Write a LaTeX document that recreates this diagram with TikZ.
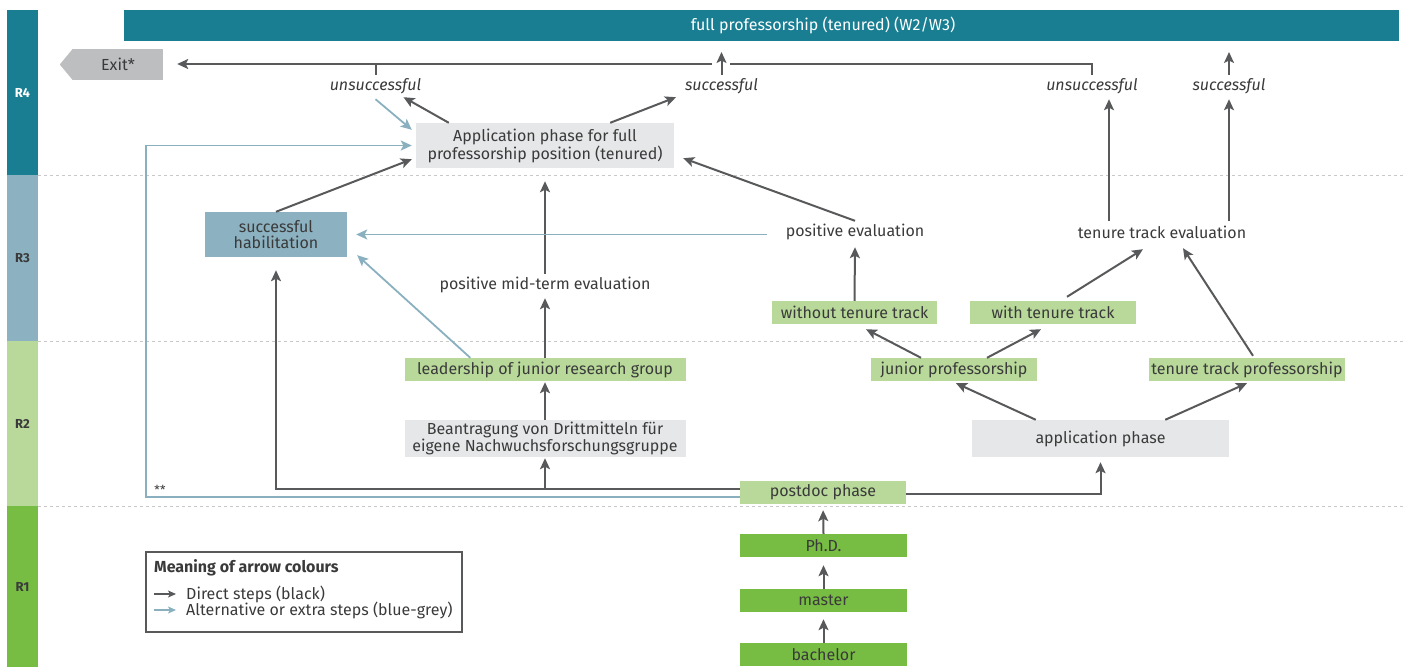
\documentclass[tikz,border=0pt]{standalone}
\usepackage{fontspec}
\setmainfont{Fira Sans}
\usetikzlibrary{arrows.meta}
\definecolor{teal1}{HTML}{1A7E93}
\definecolor{bgrey}{HTML}{8CB1C0}
\definecolor{lgreen}{HTML}{B8D99A}
\definecolor{dgreen}{HTML}{77BC43}
\definecolor{lgrey}{HTML}{E6E7E8}
\definecolor{exitc}{HTML}{BCBEC0}
\definecolor{arrblk}{HTML}{58595B}
\definecolor{arrblue}{HTML}{8AB0C0}
\definecolor{txt}{HTML}{3A3A3A}
\definecolor{dotc}{HTML}{C8C8C8}
\begin{document}
\begin{tikzpicture}[x=1pt,y=-1pt,
  every node/.style={inner sep=0pt, text=txt, font=\fontsize{16}{16.5}\selectfont},
  bx/.style={align=center, minimum height=23pt},
  g1/.style={bx, fill=lgreen, minimum width=166pt},
  g2/.style={bx, fill=dgreen, minimum width=167pt},
  gr/.style={bx, fill=lgrey},
  lbl/.style={minimum height=22pt},
  itl/.style={lbl, font=\fontsize{16}{16.5}\selectfont\itshape},
  blk/.style={draw=arrblk, line width=2pt},
  blu/.style={draw=arrblue, line width=1.8pt},
  arrowhd/.style={-{Stealth[length=11pt,width=10pt,inset=2.5pt]}},
  smallhd/.style={-{Stealth[length=8pt,width=7pt,inset=2pt]}},
  band/.style={minimum width=31pt, font=\fontsize{13}{13}\selectfont\bfseries},
  dotl/.style={draw=dotc, line width=0.9pt, dash pattern=on 3pt off 3pt},
]
\useasboundingbox (0,0) rectangle (1403,667);

% side bands
\node[band, fill=teal1, minimum height=165pt, text=white] (r4) at (22.5,92.5) {R4};
\node[band, fill=bgrey, minimum height=166pt] (r3) at (22.5,258) {R3};
\node[band, fill=lgreen, minimum height=165pt] (r2) at (22.5,423.5) {R2};
\node[band, fill=dgreen, minimum height=161pt] (r1) at (22.5,586.5) {R1};

% dotted separators
\draw[dotl] (38,175) -- (1403,175);
\draw[dotl] (38,341) -- (1403,341);
\draw[dotl] (38,506) -- (1403,506);

% top bar
\node[fill=teal1, minimum width=1275pt, minimum height=31pt] (fullbar) at (761.5,25.5) {};
\node[text=white] (fullp) at (823,25) {full professorship (tenured) (W2/W3)};

% exit
\node[fill=exitc, minimum width=90pt, minimum height=31pt] (exit) at (118,64.5) {Exit*};
\fill[exitc] (exit.north west) -- ([xshift=-13pt]exit.west) -- (exit.south west) -- cycle;

% nodes
\node[gr, minimum width=258pt, minimum height=45pt] (app) at (545,145.5) {Application phase for full\\professorship position (tenured)};
\node[bx, fill=bgrey, minimum width=142pt, minimum height=45pt] (hab) at (276,234.5) {successful\\habilitation};
\node[gr, minimum width=281pt, minimum height=37pt] (bean) at (545,438.5) {Beantragung von Drittmitteln für\\eigene Nachwuchsforschungsgruppe};
\node[g1, minimum width=281pt] (lead) at (545,369.5) {leadership of junior research group};
\node[lbl] (mid) at (545,285) {positive mid-term evaluation};
\node[lbl] (pe) at (855,232) {positive evaluation};
\node[lbl] (tte) at (1162,232) {tenure track evaluation};
\node[g1, minimum width=165pt] (wo) at (854.5,312.5) {without tenure track};
\node[g1] (wt) at (1053,312.5) {with tenure track};
\node[g1] (jp) at (954,369.5) {junior professorship};
\node[g1, minimum width=196pt] (ttp) at (1247,369.5) {tenure track professorship};
\node[gr, minimum width=257pt, minimum height=37pt] (ap) at (1100.5,438.5) {application phase};
\node[g1] (pd) at (823,492.5) {postdoc phase};
\node[g2] (phd) at (823.5,545.5) {Ph.D.};
\node[g2] (ma) at (823.5,600.5) {master};
\node[g2] (ba) at (823.5,654.5) {bachelor};

\node[itl] (uL) at (375.5,86) {unsuccessful};
\node[itl] (sL) at (721.5,86) {successful};
\node[itl] (uR) at (1092,86) {unsuccessful};
\node[itl] (sR) at (1229,86) {successful};
\node[font=\fontsize{12.5}{13}\selectfont] (ast) at (160,490) {**};

% top line
\coordinate (gapR) at (730,64);
\coordinate (gapL) at (712,64);
\coordinate (sLtop) at (721.5,52);
\coordinate (sRtop) at (1229,52);
\draw[blk] (uR.north) |- (gapR);
\draw[blk, arrowhd, shorten >=14pt] (gapL) -- (exit.east |- gapL);
\draw[blk] (uL.north) -- (uL.north |- gapL);
\draw[blk, arrowhd] (sL.north) -- (sLtop);
\draw[blk, arrowhd] (sR.north) -- (sRtop);

% app to results
\draw[blk, arrowhd] ([xshift=33pt]app.north west) -- ([xshift=28pt]uL.south);
\draw[blu, arrowhd] ([yshift=-2pt]uL.south) -- ([xshift=-4pt,yshift=-7pt]app.north west);
\draw[blk, arrowhd] ([xshift=-64pt]app.north east) -- ([xshift=-45.5pt]sL.south);

% blue ** line
\coordinate (bcorner) at (146,300);
\draw[blu, arrowhd, shorten >=4pt] ([yshift=-4.5pt]pd.west) -| (bcorner) |- (app.west);

% postdoc left
\draw[blk, arrowhd, shorten >=13pt] ([yshift=4pt]pd.west) -| (hab.south);
\draw[blk, arrowhd, shorten >=1pt] ([yshift=4pt]pd.west) -| (bean.south);
\draw[blk, arrowhd, shorten >=1pt] (bean.north) -- (lead.south);
\draw[blk, arrowhd] (lead.north) -- ([yshift=-2pt]mid.south);
\draw[blk, arrowhd, shorten >=13pt] (mid.north) -- (app.south);
\draw[blk, arrowhd] (hab.north) -- ([xshift=-4pt,yshift=9pt]app.south west);
\draw[blu, arrowhd] ([xshift=66pt]lead.north west) -- ([xshift=10pt,yshift=2pt]hab.south east);
\draw[blu, arrowhd, shorten <=19pt, shorten >=9pt] (pe.west |- hab.east) -- (hab.east);
\draw[blk, arrowhd] (pe.north) -- ([xshift=9pt,yshift=10pt]app.south east);

% right part
\draw[blk, arrowhd] (wo.north) -- ([yshift=-4pt]pe.south);
\draw[blk, arrowhd] ([xshift=-33pt]jp.north) -- ([xshift=11.5pt,yshift=-5pt]wo.south);
\draw[blk, arrowhd] ([xshift=33pt]jp.north) -- ([xshift=-12pt,yshift=-5pt]wt.south);
\draw[blk, arrowhd] ([xshift=64pt]ap.north west) -- ([xshift=2pt,yshift=-2pt]jp.south);
\draw[blk, arrowhd] ([xshift=-64pt]ap.north east) -- ([yshift=-2pt]ttp.south);
\draw[blk, arrowhd] ([xshift=14pt,yshift=4pt]wt.north) -- ([xshift=-19pt,yshift=-6pt]tte.south);
\draw[blk, arrowhd] ([xshift=6pt,yshift=2pt]ttp.north) -- ([xshift=21pt,yshift=-5pt]tte.south);
\draw[blk, arrowhd] ([xshift=-53pt]tte.north) -- ([xshift=17pt,yshift=-2pt]uR.south);
\draw[blk, arrowhd] ([xshift=67pt]tte.north) -- ([yshift=-2pt]sR.south);
\draw[blk, arrowhd] ([yshift=-1.5pt]pd.east) -| ([yshift=-5pt]ap.south);

% bottom chain
\draw[blk, arrowhd, shorten >=6pt] (phd.north) -- (pd.south);
\draw[blk, arrowhd, shorten >=8pt] (ma.north) -- (phd.south);
\draw[blk, arrowhd, shorten >=7pt] (ba.north) -- (ma.south);

% legend
\node[draw=arrblk, line width=1.2pt, minimum width=316pt, minimum height=80pt] (leg) at (304,592) {};
\node[anchor=west, font=\fontsize{16}{16.5}\selectfont\bfseries] (legt) at (154,568) {Meaning of arrow colours};
\coordinate (l1a) at (154,594);
\coordinate (l1b) at (176,594);
\coordinate (l2a) at (154,610);
\coordinate (l2b) at (176,610);
\draw[blk, line width=1.5pt, smallhd] (l1a) -- (l1b);
\draw[blu, line width=1.5pt, smallhd] (l2a) -- (l2b);
\node[anchor=west] (l1t) at (186,594) {Direct steps (black)};
\node[anchor=west] (l2t) at (186,610) {Alternative or extra steps (blue-grey)};
\end{tikzpicture}
\end{document}
